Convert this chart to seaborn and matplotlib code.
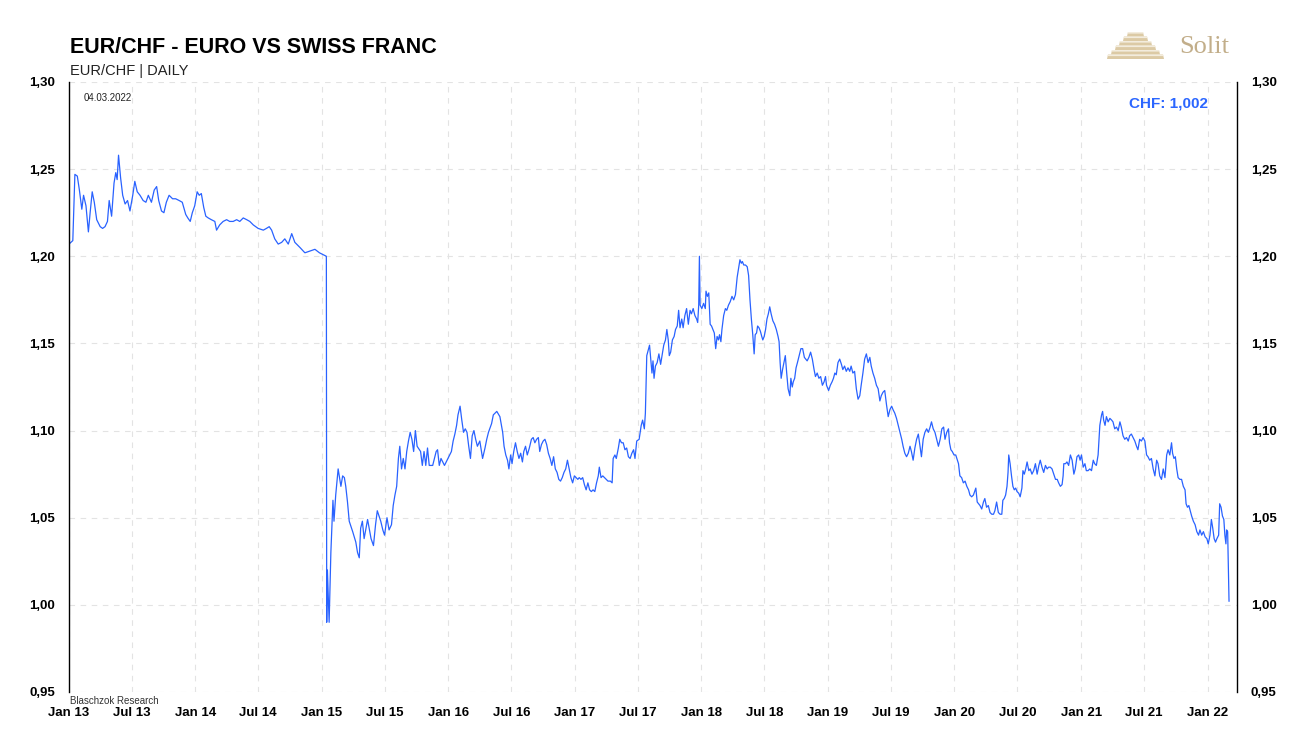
import matplotlib

matplotlib.use("Agg")
import matplotlib.pyplot as plt
from matplotlib.patches import Polygon
import numpy as np
import pandas as pd
import seaborn as sns

# EUR/CHF closing rates (month-day, rate), one list per year
obs_2013 = [
    ("01-01", 1.207), ("01-12", 1.209), ("01-18", 1.247), ("01-25", 1.246), ("01-31", 1.238),
    ("02-07", 1.227), ("02-12", 1.235), ("02-19", 1.229), ("02-26", 1.214), ("03-03", 1.225),
    ("03-09", 1.237), ("03-15", 1.231), ("03-22", 1.221), ("04-01", 1.217), ("04-08", 1.216),
    ("04-15", 1.217), ("04-22", 1.220), ("04-27", 1.232), ("05-04", 1.223), ("05-11", 1.242),
    ("05-16", 1.248), ("05-20", 1.244), ("05-24", 1.258), ("05-30", 1.245), ("06-05", 1.235),
    ("06-12", 1.230), ("06-19", 1.232), ("06-26", 1.226), ("07-04", 1.235), ("07-10", 1.243),
    ("07-17", 1.237), ("07-25", 1.235), ("08-03", 1.232), ("08-11", 1.231), ("08-18", 1.235),
    ("08-27", 1.231), ("09-04", 1.238), ("09-11", 1.240), ("09-17", 1.232), ("09-25", 1.226),
    ("10-02", 1.225), ("10-09", 1.231), ("10-17", 1.235), ("10-27", 1.233), ("11-05", 1.233),
    ("11-15", 1.232), ("11-24", 1.231), ("12-04", 1.224), ("12-10", 1.222), ("12-17", 1.220),
    ("12-23", 1.225), ("12-30", 1.229),
]
obs_2014 = [
    ("01-06", 1.237), ("01-12", 1.235), ("01-18", 1.236), ("01-25", 1.228), ("01-31", 1.223),
    ("02-07", 1.222), ("02-16", 1.221), ("02-26", 1.220), ("03-03", 1.215), ("03-12", 1.218),
    ("03-22", 1.220), ("04-01", 1.221), ("04-10", 1.220), ("04-20", 1.220), ("04-30", 1.221),
    ("05-09", 1.220), ("05-19", 1.222), ("05-29", 1.221), ("06-07", 1.220), ("06-17", 1.218),
    ("07-01", 1.216), ("07-16", 1.215), ("07-25", 1.216), ("08-02", 1.217), ("08-09", 1.215),
    ("08-18", 1.210), ("08-28", 1.207), ("09-07", 1.208), ("09-16", 1.210), ("09-26", 1.207),
    ("10-06", 1.213), ("10-15", 1.208), ("10-30", 1.205), ("11-13", 1.202), ("11-28", 1.203),
    ("12-12", 1.204), ("12-25", 1.202),
]
obs_2015 = [
    ("01-14", 1.200), ("01-15", 0.990), ("01-17", 1.020), ("01-22", 0.990), ("01-27", 1.030),
    ("02-02", 1.060), ("02-05", 1.048), ("02-10", 1.063), ("02-17", 1.078), ("02-25", 1.068),
    ("03-02", 1.074), ("03-07", 1.073), ("03-11", 1.068), ("03-16", 1.059), ("03-21", 1.048),
    ("03-31", 1.042), ("04-09", 1.036), ("04-14", 1.030), ("04-19", 1.027), ("04-23", 1.044),
    ("04-28", 1.048), ("05-03", 1.038), ("05-13", 1.049), ("05-23", 1.038), ("05-30", 1.034),
    ("06-05", 1.046), ("06-10", 1.054), ("06-20", 1.048), ("06-26", 1.043), ("07-01", 1.040),
    ("07-08", 1.050), ("07-14", 1.043), ("07-21", 1.046), ("07-26", 1.057), ("07-31", 1.063),
    ("08-05", 1.068), ("08-10", 1.084), ("08-14", 1.091), ("08-19", 1.078), ("08-24", 1.084),
    ("08-29", 1.078), ("09-03", 1.088), ("09-08", 1.094), ("09-13", 1.099), ("09-18", 1.095),
    ("09-23", 1.088), ("09-28", 1.100), ("10-03", 1.091), ("10-13", 1.088), ("10-18", 1.080),
    ("10-23", 1.088), ("10-28", 1.080), ("11-02", 1.090), ("11-07", 1.080), ("11-17", 1.080),
    ("11-27", 1.088), ("12-01", 1.089), ("12-06", 1.080), ("12-11", 1.084), ("12-21", 1.080),
    ("12-31", 1.084),
]
obs_2016 = [
    ("01-05", 1.086), ("01-10", 1.088), ("01-15", 1.094), ("01-20", 1.098), ("01-25", 1.103),
    ("01-29", 1.109), ("02-04", 1.114), ("02-09", 1.106), ("02-14", 1.099), ("02-19", 1.101),
    ("02-24", 1.099), ("02-29", 1.091), ("03-05", 1.084), ("03-10", 1.097), ("03-15", 1.100),
    ("03-20", 1.095), ("03-25", 1.091), ("04-01", 1.094), ("04-09", 1.084), ("04-16", 1.090),
    ("04-21", 1.095), ("04-26", 1.099), ("05-05", 1.104), ("05-10", 1.109), ("05-20", 1.111),
    ("05-29", 1.108), ("06-06", 1.099), ("06-10", 1.091), ("06-15", 1.086), ("06-20", 1.083),
    ("06-24", 1.078), ("06-29", 1.086), ("07-03", 1.081), ("07-08", 1.088), ("07-13", 1.093),
    ("07-18", 1.088), ("07-23", 1.084), ("07-28", 1.087), ("08-02", 1.082), ("08-06", 1.088),
    ("08-11", 1.091), ("08-16", 1.086), ("08-22", 1.090), ("08-28", 1.095), ("09-02", 1.096),
    ("09-07", 1.093), ("09-12", 1.095), ("09-17", 1.096), ("09-21", 1.088), ("09-26", 1.092),
    ("10-01", 1.094), ("10-06", 1.095), ("10-11", 1.092), ("10-16", 1.087), ("10-21", 1.084),
    ("10-26", 1.080), ("10-31", 1.085), ("11-05", 1.078), ("11-10", 1.076), ("11-15", 1.072),
    ("11-20", 1.071), ("11-25", 1.073), ("11-30", 1.076), ("12-05", 1.078), ("12-10", 1.083),
    ("12-15", 1.078), ("12-20", 1.073), ("12-25", 1.070), ("12-30", 1.074),
]
obs_2017 = [
    ("01-04", 1.073), ("01-09", 1.072), ("01-13", 1.073), ("01-18", 1.072), ("01-23", 1.073),
    ("01-28", 1.069), ("02-02", 1.066), ("02-07", 1.070), ("02-12", 1.066), ("02-17", 1.065),
    ("02-22", 1.066), ("02-27", 1.065), ("03-04", 1.070), ("03-09", 1.074), ("03-12", 1.079),
    ("03-17", 1.073), ("03-22", 1.074), ("03-27", 1.073), ("04-01", 1.072), ("04-06", 1.071),
    ("04-13", 1.071), ("04-18", 1.070), ("04-21", 1.084), ("04-26", 1.086), ("04-30", 1.084),
    ("05-06", 1.090), ("05-10", 1.095), ("05-15", 1.093), ("05-20", 1.093), ("05-25", 1.089),
    ("05-30", 1.090), ("06-04", 1.085), ("06-09", 1.084), ("06-14", 1.087), ("06-19", 1.089),
    ("06-23", 1.084), ("06-28", 1.094), ("07-05", 1.095), ("07-11", 1.103), ("07-15", 1.106),
    ("07-20", 1.101), ("07-23", 1.110), ("07-27", 1.143), ("08-04", 1.149), ("08-11", 1.133),
    ("08-14", 1.140), ("08-17", 1.130), ("08-21", 1.137), ("08-26", 1.139), ("08-31", 1.144),
    ("09-05", 1.138), ("09-09", 1.143), ("09-14", 1.149), ("09-19", 1.152), ("09-23", 1.158),
    ("09-27", 1.152), ("09-30", 1.143), ("10-04", 1.145), ("10-09", 1.152), ("10-14", 1.154),
    ("10-18", 1.158), ("10-23", 1.160), ("10-27", 1.169), ("10-31", 1.159), ("11-05", 1.164),
    ("11-09", 1.159), ("11-14", 1.166), ("11-19", 1.170), ("11-24", 1.161), ("11-29", 1.169),
    ("12-03", 1.167), ("12-08", 1.170), ("12-13", 1.166), ("12-18", 1.164), ("12-21", 1.162),
    ("12-24", 1.172), ("12-26", 1.200), ("12-28", 1.172),
]
obs_2018 = [
    ("01-02", 1.170), ("01-07", 1.173), ("01-12", 1.170), ("01-14", 1.180), ("01-18", 1.177),
    ("01-22", 1.179), ("01-26", 1.161), ("01-30", 1.160), ("02-03", 1.158), ("02-07", 1.156),
    ("02-11", 1.147), ("02-15", 1.154), ("02-19", 1.152), ("02-22", 1.155), ("02-26", 1.151),
    ("03-01", 1.158), ("03-06", 1.166), ("03-11", 1.170), ("03-15", 1.169), ("03-20", 1.172),
    ("03-25", 1.174), ("03-30", 1.177), ("04-04", 1.175), ("04-09", 1.178), ("04-14", 1.188),
    ("04-18", 1.193), ("04-22", 1.198), ("04-26", 1.196), ("04-29", 1.197), ("05-03", 1.195),
    ("05-08", 1.195), ("05-13", 1.194), ("05-17", 1.189), ("05-21", 1.175), ("05-25", 1.164),
    ("05-29", 1.155), ("06-02", 1.144), ("06-05", 1.155), ("06-09", 1.156), ("06-12", 1.160),
    ("06-16", 1.159), ("06-20", 1.157), ("06-24", 1.154), ("06-27", 1.152), ("07-01", 1.154),
    ("07-05", 1.158), ("07-09", 1.164), ("07-13", 1.167), ("07-17", 1.171), ("07-21", 1.167),
    ("07-26", 1.163), ("07-31", 1.161), ("08-05", 1.158), ("08-10", 1.154), ("08-13", 1.151),
    ("08-16", 1.139), ("08-19", 1.130), ("08-23", 1.135), ("08-27", 1.139), ("08-31", 1.143),
    ("09-04", 1.133), ("09-08", 1.124), ("09-13", 1.120), ("09-16", 1.130), ("09-20", 1.125),
    ("09-23", 1.128), ("09-27", 1.130), ("10-01", 1.136), ("10-05", 1.139), ("10-10", 1.143),
    ("10-15", 1.147), ("10-20", 1.147), ("10-25", 1.142), ("10-29", 1.141), ("11-02", 1.140),
    ("11-07", 1.142), ("11-12", 1.145), ("11-17", 1.141), ("11-22", 1.135), ("11-26", 1.131),
    ("12-01", 1.133), ("12-06", 1.130), ("12-11", 1.131), ("12-16", 1.126), ("12-21", 1.128),
    ("12-25", 1.131), ("12-28", 1.126),
]
obs_2019 = [
    ("01-03", 1.123), ("01-08", 1.126), ("01-13", 1.128), ("01-17", 1.130), ("01-21", 1.133),
    ("01-25", 1.132), ("01-30", 1.139), ("02-04", 1.141), ("02-09", 1.138), ("02-13", 1.135),
    ("02-18", 1.137), ("02-23", 1.134), ("02-28", 1.136), ("03-05", 1.134), ("03-09", 1.137),
    ("03-14", 1.133), ("03-19", 1.134), ("03-24", 1.124), ("03-29", 1.118), ("04-03", 1.120),
    ("04-07", 1.126), ("04-12", 1.133), ("04-17", 1.141), ("04-22", 1.144), ("04-27", 1.139),
    ("05-02", 1.142), ("05-06", 1.137), ("05-11", 1.133), ("05-16", 1.130), ("05-21", 1.126),
    ("05-26", 1.124), ("05-31", 1.117), ("06-04", 1.120), ("06-09", 1.122), ("06-14", 1.123),
    ("06-19", 1.115), ("06-24", 1.108), ("06-29", 1.112), ("07-04", 1.114), ("07-08", 1.112),
    ("07-13", 1.110), ("07-18", 1.107), ("07-23", 1.103), ("07-28", 1.099), ("08-02", 1.095),
    ("08-06", 1.091), ("08-11", 1.087), ("08-16", 1.085), ("08-21", 1.087), ("08-26", 1.091),
    ("08-30", 1.088), ("09-04", 1.083), ("09-09", 1.090), ("09-14", 1.095), ("09-19", 1.098),
    ("09-24", 1.091), ("09-28", 1.085), ("10-03", 1.095), ("10-08", 1.099), ("10-13", 1.101),
    ("10-18", 1.099), ("10-23", 1.102), ("10-27", 1.105), ("11-01", 1.101), ("11-06", 1.099),
    ("11-11", 1.095), ("11-16", 1.091), ("11-21", 1.095), ("11-26", 1.101), ("12-01", 1.102),
    ("12-05", 1.095), ("12-10", 1.099), ("12-15", 1.101), ("12-18", 1.093), ("12-22", 1.089),
    ("12-26", 1.088), ("12-31", 1.086),
]
obs_2020 = [
    ("01-05", 1.086), ("01-10", 1.083), ("01-13", 1.081), ("01-17", 1.074), ("01-22", 1.073),
    ("01-27", 1.070), ("02-01", 1.071), ("02-06", 1.068), ("02-11", 1.066), ("02-15", 1.063),
    ("02-20", 1.062), ("02-25", 1.063), ("03-01", 1.066), ("03-03", 1.067), ("03-07", 1.059),
    ("03-11", 1.058), ("03-15", 1.057), ("03-20", 1.055), ("03-25", 1.059), ("03-29", 1.061),
    ("04-03", 1.056), ("04-08", 1.057), ("04-13", 1.053), ("04-18", 1.052), ("04-23", 1.052),
    ("04-27", 1.054), ("05-02", 1.059), ("05-07", 1.053), ("05-12", 1.052), ("05-17", 1.052),
    ("05-20", 1.060), ("05-24", 1.061), ("05-28", 1.063), ("06-01", 1.068), ("06-04", 1.076),
    ("06-06", 1.086), ("06-10", 1.081), ("06-14", 1.074), ("06-18", 1.068), ("06-22", 1.066),
    ("06-26", 1.067), ("06-30", 1.065), ("07-05", 1.064), ("07-09", 1.062), ("07-14", 1.067),
    ("07-17", 1.077), ("07-21", 1.075), ("07-25", 1.078), ("07-29", 1.082), ("08-03", 1.077),
    ("08-07", 1.078), ("08-12", 1.075), ("08-17", 1.077), ("08-22", 1.081), ("08-27", 1.075),
    ("09-01", 1.080), ("09-05", 1.083), ("09-10", 1.079), ("09-15", 1.076), ("09-20", 1.080),
    ("09-25", 1.078), ("09-29", 1.079), ("10-04", 1.079), ("10-09", 1.078), ("10-14", 1.075),
    ("10-19", 1.072), ("10-24", 1.072), ("10-28", 1.070), ("11-02", 1.068), ("11-07", 1.069),
    ("11-10", 1.074), ("11-12", 1.081), ("11-17", 1.081), ("11-21", 1.082), ("11-26", 1.080),
    ("12-01", 1.086), ("12-06", 1.083), ("12-11", 1.075), ("12-15", 1.078), ("12-20", 1.085),
    ("12-25", 1.086), ("12-29", 1.083),
]
obs_2021 = [
    ("01-02", 1.086), ("01-07", 1.079), ("01-12", 1.081), ("01-16", 1.077), ("01-21", 1.077),
    ("01-26", 1.078), ("01-31", 1.077), ("02-05", 1.083), ("02-09", 1.081), ("02-14", 1.080),
    ("02-19", 1.086), ("02-24", 1.103), ("03-01", 1.109), ("03-04", 1.111), ("03-07", 1.106),
    ("03-11", 1.103), ("03-15", 1.108), ("03-20", 1.105), ("03-25", 1.107), ("03-30", 1.106),
    ("04-03", 1.105), ("04-08", 1.101), ("04-13", 1.102), ("04-18", 1.100), ("04-23", 1.105),
    ("04-27", 1.102), ("05-02", 1.097), ("05-07", 1.095), ("05-12", 1.096), ("05-17", 1.094),
    ("05-21", 1.097), ("05-26", 1.098), ("05-31", 1.096), ("06-05", 1.094), ("06-10", 1.091),
    ("06-14", 1.089), ("06-19", 1.095), ("06-24", 1.094), ("06-29", 1.096), ("07-04", 1.094),
    ("07-09", 1.086), ("07-13", 1.085), ("07-18", 1.083), ("07-23", 1.084), ("07-28", 1.078),
    ("08-02", 1.074), ("08-07", 1.083), ("08-11", 1.081), ("08-16", 1.074), ("08-21", 1.072),
    ("08-26", 1.078), ("08-31", 1.073), ("09-05", 1.086), ("09-09", 1.089), ("09-14", 1.086),
    ("09-19", 1.093), ("09-22", 1.087), ("09-26", 1.084), ("09-30", 1.085), ("10-04", 1.078),
    ("10-08", 1.073), ("10-13", 1.072), ("10-18", 1.072), ("10-23", 1.068), ("10-28", 1.066),
    ("10-31", 1.058), ("11-04", 1.056), ("11-08", 1.057), ("11-12", 1.054), ("11-16", 1.051),
    ("11-21", 1.048), ("11-26", 1.046), ("12-01", 1.042), ("12-06", 1.040), ("12-10", 1.043),
    ("12-15", 1.040), ("12-20", 1.042), ("12-25", 1.039), ("12-30", 1.038),
]
obs_2022 = [
    ("01-03", 1.035), ("01-08", 1.040), ("01-12", 1.049), ("01-16", 1.044), ("01-20", 1.038),
    ("01-24", 1.036), ("01-28", 1.038), ("02-02", 1.040), ("02-05", 1.058), ("02-09", 1.056),
    ("02-13", 1.051), ("02-17", 1.049), ("02-20", 1.040), ("02-23", 1.035), ("02-25", 1.043),
    ("02-28", 1.042), ("03-02", 1.021), ("03-04", 1.002),
]

x_tick_dates = [
    "2013-01-01", "2013-07-01", "2014-01-01", "2014-07-01", "2015-01-01", "2015-07-01",
    "2016-01-01", "2016-07-01", "2017-01-01", "2017-07-01", "2018-01-01", "2018-07-01",
    "2019-01-01", "2019-07-01", "2020-01-01", "2020-07-01", "2021-01-01", "2021-07-01",
    "2022-01-01",
]
x_tick_labels = [
    "Jan 13", "Jul 13", "Jan 14", "Jul 14", "Jan 15", "Jul 15", "Jan 16", "Jul 16",
    "Jan 17", "Jul 17", "Jan 18", "Jul 18", "Jan 19", "Jul 19", "Jan 20", "Jul 20",
    "Jan 21", "Jul 21", "Jan 22",
]
y_ticks = [0.95, 1.00, 1.05, 1.10, 1.15, 1.20, 1.25, 1.30]
y_tick_labels = ["0,95", "1,00", "1,05", "1,10", "1,15", "1,20", "1,25", "1,30"]

last_date = "04.03.2022"
last_value = "CHF: 1,002"

# put the years together in one frame
yearly = {
    2013: obs_2013, 2014: obs_2014, 2015: obs_2015, 2016: obs_2016, 2017: obs_2017,
    2018: obs_2018, 2019: obs_2019, 2020: obs_2020, 2021: obs_2021, 2022: obs_2022,
}
rows = [(f"{year}-{md}", v) for year, obs in yearly.items() for md, v in obs]
df = pd.DataFrame(rows, columns=["date", "rate"])
df["date"] = pd.to_datetime(df["date"])

W, H = 1307, 735


def fx(px):
    return px / W


def fy(py):
    return 1 - py / H


sns.set_style("white")
plt.rcParams["font.family"] = ["Liberation Sans", "DejaVu Sans"]

fig = plt.figure(figsize=(W / 100, H / 100), dpi=100)
ax = fig.add_axes([fx(69), fy(692), fx(1237) - fx(69), fy(82) - fy(692)])

sns.lineplot(data=df, x="date", y="rate", ax=ax, color="#2962ff", linewidth=0.9)

ax.set_xlim(pd.Timestamp("2013-01-01"), pd.Timestamp("2022-03-27"))
ax.set_ylim(0.95, 1.30)
ax.set_xticks(pd.to_datetime(x_tick_dates), x_tick_labels, fontweight="bold", fontsize=9.5)
ax.set_yticks(y_ticks, y_tick_labels, fontweight="bold", fontsize=9.5)
ax.tick_params(axis="x", length=0, pad=11, colors="black")
ax.tick_params(axis="y", length=0, pad=10, labelleft=True, labelright=True, colors="black")
ax.set_xlabel("")
ax.set_ylabel("")

# dashed light grid
ax.grid(True, linestyle=(0, (5, 5)), color="#e3e3e3", linewidth=0.8)
ax.set_axisbelow(True)

for side in ["top", "bottom"]:
    ax.spines[side].set_visible(False)
for side in ["left", "right"]:
    ax.spines[side].set_color("black")
    ax.spines[side].set_linewidth(1.0)

# header texts
fig.text(fx(70), fy(53), "EUR/CHF - EURO VS SWISS FRANC", fontsize=15.5, fontweight="bold",
         color="black", va="baseline")
fig.text(fx(70), fy(75), "EUR/CHF | DAILY", fontsize=10.5, color="#222222", va="baseline")
fig.text(fx(84), fy(101), last_date, fontsize=7, color="#222222", va="baseline")
fig.text(fx(1208), fy(107), last_value, fontsize=11, fontweight="bold", color="#2b66ff",
         ha="right", va="baseline")
fig.text(fx(70), fy(704), "Blaschzok Research", fontsize=7, color="#333333", va="baseline")

# Solit logo: stepped pyramid + serif wordmark
cx = 1135.5
for i in range(6):
    y0 = 32 + i * 4.5
    half = 7.5 + 4 * i
    body = [(fx(cx - half), fy(y0)), (fx(cx + half), fy(y0)),
            (fx(cx + half + 1), fy(y0 + 4.5)), (fx(cx - half - 1), fy(y0 + 4.5))]
    fig.patches.append(Polygon(body, closed=True, transform=fig.transFigure,
                               facecolor="#dccaa5", edgecolor="none"))
    top = [(fx(cx - half), fy(y0)), (fx(cx + half), fy(y0)),
           (fx(cx + half + 0.4), fy(y0 + 1.6)), (fx(cx - half - 0.4), fy(y0 + 1.6))]
    fig.patches.append(Polygon(top, closed=True, transform=fig.transFigure,
                               facecolor="#f3ecdd", edgecolor="none"))
fig.text(fx(1179), fy(53), "Solit", fontsize=19, family=["Liberation Serif", "DejaVu Serif"],
         color="#c2ae8a", va="baseline")

fig.savefig("out.png", dpi=100)
